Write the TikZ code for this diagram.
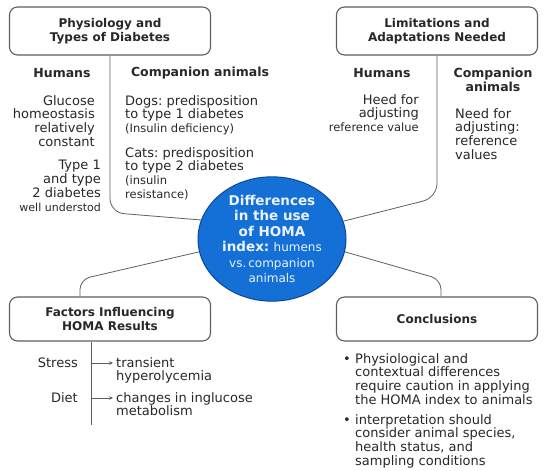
\documentclass[tikz,border=0pt]{standalone}
\usepackage{fontspec}
\setmainfont{DejaVu Sans}
\usetikzlibrary{shapes.geometric, arrows.meta, positioning}
\definecolor{hubblue}{RGB}{20, 112, 214}
\definecolor{hubedge}{RGB}{12, 72, 150}
\definecolor{hubtext}{RGB}{235, 243, 255}
\definecolor{inkgray}{RGB}{40, 40, 40}
\definecolor{linegray}{RGB}{95, 95, 95}
\newcommand{\smalltxt}{\fontsize{11.5}{14}\selectfont}
\frenchspacing

\begin{document}
\begin{tikzpicture}[x=1pt, y=-1pt,
    topic/.style={draw=linegray, line width=1.1pt, rounded corners=8pt, fill=white, minimum width=201pt, align=center, text=inkgray, font=\fontsize{12}{14.5}\selectfont\bfseries},
    colhead/.style={text=inkgray, align=center, inner sep=0pt, font=\fontsize{12.5}{14.5}\selectfont\bfseries},
    body/.style={text=inkgray, inner sep=0pt, font=\fontsize{13}{13.8}\selectfont},
    link/.style={draw=linegray, line width=0.8pt},
    tip/.style={draw=linegray, line width=0.7pt, -{Stealth[length=4pt, width=3.5pt]}}
  ]
  \fill[white] (0,0) rectangle (550,471);
  \useasboundingbox (0,0) rectangle (550,471);

  % four topic boxes
  \node[topic, minimum height=48pt] (phys) at (110, 31) {Physiology and\\Types of Diabetes};
  \node[topic, minimum height=48pt] (limits) at (437, 31) {Limitations and\\Adaptations Needed};
  \node[topic, minimum height=44pt] (factors) at (110, 319) {Factors Influencing\\HOMA Results};
  \node[topic, minimum height=44pt] (concl) at (437, 319) {Conclusions};

  % central topic
  \node[ellipse, draw=hubedge, line width=1pt, fill=hubblue, minimum width=148pt, minimum height=115pt, inner sep=0pt, text=hubtext, align=center, font=\fontsize{13.5}{15.5}\selectfont] (hub) at (272, 239) {
    \bfseries Differences\\
    \bfseries in the use\\
    \bfseries of HOMA\\
    {\bfseries index:} {\fontsize{12}{15.5}\selectfont humens}\\
    {\fontsize{12}{15.5}\selectfont vs.\,companion}\\
    {\fontsize{12}{15.5}\selectfont animals}
  };

  % connectors to the hub
  \draw[link, rounded corners=14pt] (phys.south) -- ++(0, 157) -- (hub.165);
  \draw[link, rounded corners=14pt] (limits.south) -- ++(0, 142) -- (hub.14);
  \draw[link, rounded corners=10pt] ([xshift=-30pt]factors.north) -- ++(0, -17) -- (hub.190);
  \draw[link, rounded corners=10pt] ([xshift=4pt]concl.north) -- ++(0, -17) -- (hub.350);

  % physiology: two columns
  \node[colhead] (hum1) at (62, 73) {Humans};
  \node[colhead] (comp1) at (200, 73) {Companion animals};
  \node[body, anchor=north east, align=right] (gluc) at (95, 95) {Glucose\\homeostasis\\relatively\\constant};
  \node[body, anchor=north east, align=right] (types) at (101, 160) {Type 1\\and type\\2 diabetes\\{\fontsize{11}{13}\selectfont well understod}};
  \node[body, anchor=north west, align=left] (dogs) at (125, 95) {Dogs: predisposition\\to type 1 diabetes\\{\smalltxt (Insulin deficiency)}};
  \node[body, anchor=north west, align=left] (cats) at (125, 147) {Cats: predisposition\\to type 2 diabetes\\{\smalltxt (insulin}\\{\smalltxt resistance)}};

  % limitations: two columns
  \node[colhead] (hum2) at (382, 73) {Humans};
  \node[colhead] (comp2) at (493, 80) {Companion\\animals};
  \node[body, anchor=north east, align=right] (heed) at (419, 94) {Heed for\\adjusting\\{\smalltxt reference value}};
  \node[body, anchor=north west, align=left] (need) at (455, 108) {Need for\\adjusting:\\reference\\values};

  % factors: stem with arrows
  \coordinate (stem) at ([xshift=-19pt]factors.south);
  \draw[link] (stem) -- ++(0, 83);
  \node[body, anchor=east] (stress) at (78, 363) {Stress};
  \node[body, anchor=east] (diet) at (78, 398) {Diet};
  \node[body, anchor=north west, align=left] (trans) at (116, 357) {transient\\hyperolycemia};
  \node[body, anchor=north west, align=left] (meta) at (116, 392) {changes in inglucose\\metabolism};
  \draw[tip] (stem |- stress.east) -- ([xshift=-3pt]trans.west |- stress.east);
  \draw[tip] (stem |- diet.east) -- ([xshift=-3pt]meta.west |- diet.east);

  % conclusions: bullets
  \node[body, anchor=north west, align=left] (c1) at (343, 353) {\makebox[12pt][l]{•}Physiological and\\\hspace*{12pt}contextual differences\\\hspace*{12pt}require caution in applying\\\hspace*{12pt}the HOMA index to animals};
  \node[body, anchor=north west, align=left] (c2) at (343, 414) {\makebox[12pt][l]{•}interpretation should\\\hspace*{12pt}consider animal species,\\\hspace*{12pt}health status, and\\\hspace*{12pt}sampling conditions};
\end{tikzpicture}
\end{document}
